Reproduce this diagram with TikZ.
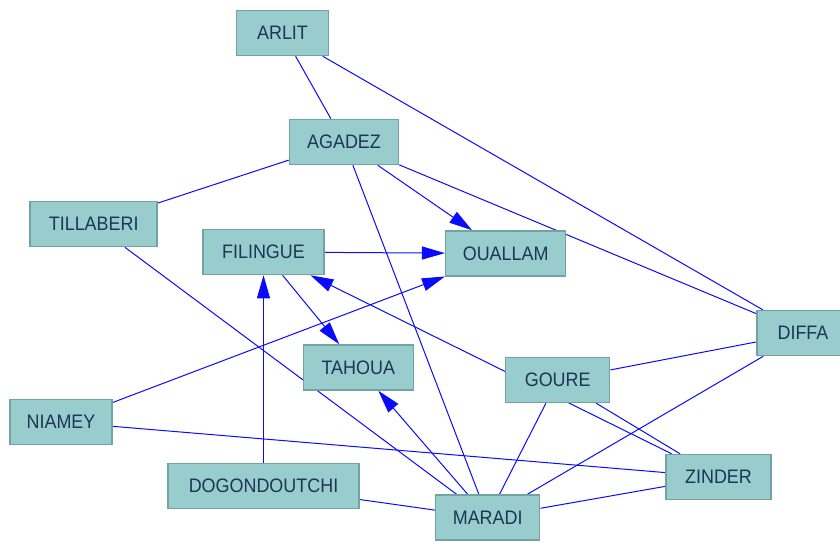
\documentclass[tikz,border=0pt]{standalone}
\usepackage{fontspec}
\newfontfamily\nodefont[FakeStretch=0.92]{Liberation Sans}
\usetikzlibrary{arrows.meta}
\pgfdeclarelayer{background}
\pgfsetlayers{background,main}
\definecolor{boxfill}{HTML}{99CCCC}
\definecolor{boxline}{HTML}{72A3A3}
\definecolor{boxtext}{HTML}{1B3658}
\definecolor{edgeblue}{HTML}{0A0AFF}
\tikzset{
  city/.style={draw=boxline, fill=boxfill, line width=1.5pt, text=boxtext,
    font=\nodefont\fontsize{19.5}{22}\selectfont, minimum height=45pt,
    inner sep=0pt, anchor=center},
  link/.style={draw=edgeblue, line width=1pt},
  arrowlink/.style={link, -{Triangle[length=23pt,width=13pt]}}
}
\begin{document}
\begin{tikzpicture}[x=1pt,y=-1pt]
\useasboundingbox (0,0) rectangle (840,542);
\node[city, minimum width=92pt]  (arlit)  at (282.5,33)   {ARLIT};
\node[city, minimum width=109pt] (agadez) at (344,142)    {AGADEZ};
\node[city, minimum width=127pt] (till)   at (93.7,224)   {TILLABERI};
\node[city, minimum width=121pt] (fil)    at (263.5,252)  {FILINGUE};
\node[city, minimum width=120pt] (ouallam) at (505.7,253.5) {OUALLAM};
\node[city, minimum width=92pt]  (diffa)  at (803,333)    {DIFFA};
\node[city, minimum width=110pt] (tahoua) at (358.3,367.5) {TAHOUA};
\node[city, minimum width=102pt] (niamey) at (61,422)     {NIAMEY};
\node[city, minimum width=191pt] (dogon)  at (263.5,486)  {DOGONDOUTCHI};
\node[city, minimum width=104pt] (goure)  at (557.7,380)  {GOURE};
\node[city, minimum width=105pt] (zinder) at (718.5,477)  {ZINDER};
\node[city, minimum width=104pt] (maradi) at (487.7,517.5) {MARADI};
\begin{pgfonlayer}{background}
\draw[link] (arlit) -- (agadez);
\draw[link] (arlit) -- (diffa);
\draw[link] (agadez) -- (till);
\draw[link] (agadez) -- (diffa);
\draw[link] (agadez) -- (maradi);
\draw[link] (till) -- (maradi);
\draw[link] (niamey) -- (zinder);
\draw[link] (dogon) -- (maradi);
\draw[link] (goure) -- (diffa);
\draw[link] (goure) -- (zinder);
\draw[link] (goure) -- (maradi);
\draw[link] (zinder) -- (maradi);
\draw[link] (diffa) -- (maradi);
\draw[arrowlink] (agadez) -- (ouallam);
\draw[arrowlink] (fil) -- (ouallam);
\draw[arrowlink] (niamey) -- (ouallam);
\draw[arrowlink] (fil) -- (tahoua);
\draw[arrowlink] (dogon) -- (fil);
\draw[arrowlink] (zinder) -- (fil);
\draw[arrowlink] (maradi) -- (tahoua);
\end{pgfonlayer}
\end{tikzpicture}
\end{document}
